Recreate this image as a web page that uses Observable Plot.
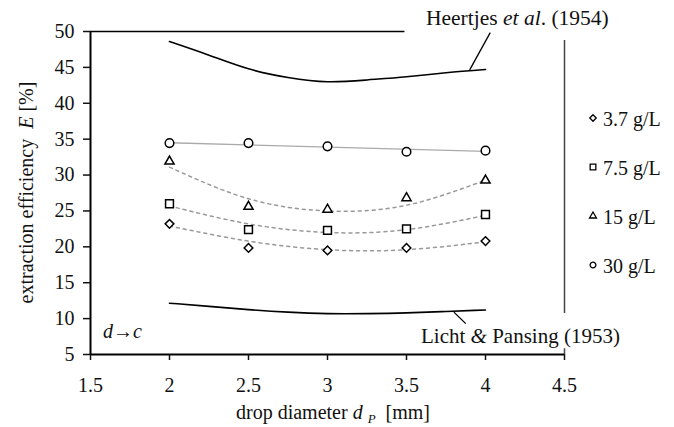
<!DOCTYPE html>
<html><head><meta charset="utf-8">
<script src="https://cdn.jsdelivr.net/npm/d3@7"></script>
<script src="https://cdn.jsdelivr.net/npm/@observablehq/plot@0.6"></script>
<style>
body{margin:0;background:#fff}
#chart{width:674px;height:427px}
svg text{white-space:pre}
</style>
</head><body><div id="chart"></div>
<script>
// ---- data ----
const diameters = [2, 2.5, 3, 3.5, 4];
const e37 = [23.2, 19.85, 19.5, 19.85, 20.8];
const e75 = [26.0, 22.4, 22.3, 22.5, 24.5];
const e15 = [31.9, 25.6, 25.2, 26.8, 29.25];
const e30 = [34.45, 34.45, 34.0, 33.25, 33.4];
const trend37 = [22.9, 20.8, 19.6, 19.6, 20.7];
const trend75 = [25.7, 23.2, 22.0, 22.4, 24.4];
const trend15 = [31.1, 26.7, 25.0, 25.8, 29.3];
const trend30X = [2, 4];
const trend30 = [34.5, 33.3];
const corrX = [2, 2.25, 2.5, 2.75, 3, 3.25, 3.5, 3.75, 4];
const heertjes = [48.6, 46.7, 44.8, 43.6, 43.0, 43.25, 43.7, 44.25, 44.7];
const licht = [12.15, 11.7, 11.25, 10.9, 10.7, 10.7, 10.8, 11.0, 11.2];
const xTicks = [1.5, 2, 2.5, 3, 3.5, 4, 4.5];
const yTicks = [5, 10, 15, 20, 25, 30, 35, 40, 45, 50];
const seriesLabels = ["3.7 g/L", "7.5 g/L", "15 g/L", "30 g/L"];
const seriesSymbols = ["diamond2", "square2", "triangle2", "circle"];
const seriesValues = [e37, e75, e15, e30];
const trendValues = [trend37, trend75, trend15];
// leader lines for the two correlation labels (data coords)
const leaders = [
  {x1: 4.03, y1: 49.85, x2: 3.90, y2: 44.65},
  {x1: 3.80, y1: 10.9, x2: 3.875, y2: 9.3}
];

const FONT = "'Liberation Serif', 'Times New Roman', serif";
const symR = {diamond2: 3.9, square2: 5.0, triangle2: 4.4, circle: 4.3};
const legR = {diamond2: 2.9, square2: 3.6, triangle2: 3.3, circle: 2.9};

const rows = (xs, ys) => xs.map((x, i) => ({x, y: ys[i]}));
const fmt = d => String(d);

const marks = [
  // frame pieces
  Plot.ruleX([1.5], {y1: 5, y2: 50, stroke: "black", strokeWidth: 2}),
  Plot.ruleY([5], {x1: 1.5, x2: 4.5, stroke: "black", strokeWidth: 2}),
  Plot.ruleY([50], {x1: 1.5, x2: 3.49, stroke: "black", strokeWidth: 1.5}),
  Plot.ruleX([4.5], {y1: 10.7, y2: 48.75, stroke: "#444", strokeWidth: 1.5}),
  Plot.ruleX([4.5], {y1: 5, y2: 5.8, stroke: "#444", strokeWidth: 1.5}),
  Plot.axisY({ticks: yTicks, tickFormat: fmt, tickSize: 7, tickPadding: 9, label: null, strokeWidth: 1.5, fontSize: 20}),
  Plot.axisX({ticks: xTicks, tickFormat: fmt, tickSize: 6, tickPadding: 17, label: null, strokeWidth: 1.5, fontSize: 20}),
  // literature correlations
  Plot.line(rows(corrX, heertjes), {x: "x", y: "y", curve: "natural", stroke: "black", strokeWidth: 1.6}),
  Plot.line(rows(corrX, licht), {x: "x", y: "y", curve: "natural", stroke: "black", strokeWidth: 1.6}),
  Plot.link(leaders, {x1: "x1", y1: "y1", x2: "x2", y2: "y2", stroke: "black", strokeWidth: 1.3}),
  // trend lines
  ...trendValues.map(t => Plot.line(rows(diameters, t), {x: "x", y: "y", curve: "natural", stroke: "#999", strokeWidth: 1.5, strokeDasharray: "3,4"})),
  Plot.line(rows(trend30X, trend30), {x: "x", y: "y", stroke: "#aaa", strokeWidth: 1.3}),
  // measured points
  ...seriesValues.map((v, i) => Plot.dot(rows(diameters, v), {x: "x", y: "y", symbol: seriesSymbols[i], r: symR[seriesSymbols[i]], stroke: "black", fill: "white", strokeWidth: 1.5}))
];

const plot = Plot.plot({
  width: 674, height: 427,
  marginLeft: 90, marginRight: 110, marginTop: 31, marginBottom: 73,
  x: {domain: [1.5, 4.5]},
  y: {domain: [5, 50]},
  style: {fontFamily: FONT, fontSize: "20px", color: "#111", background: "white", overflow: "visible"},
  marks
});
document.getElementById("chart").appendChild(plot);

const svg = d3.select(plot);
svg.attr("font-family", FONT).style("font-family", FONT);
svg.selectAll("text").attr("font-family", FONT);
const g = svg.append("g").attr("font-family", FONT).style("font-family", FONT)
  .attr("font-size", 20).attr("fill", "#111").attr("text-anchor", "start");

function rich(x, y, parts, opt = {}) {
  const t = g.append("text").attr("x", x).attr("y", y).attr("text-anchor", opt.anchor || "start");
  if (opt.size) t.attr("font-size", opt.size);
  if (opt.transform) t.attr("transform", opt.transform).attr("x", 0).attr("y", 0);
  for (const p of parts) {
    const s = t.append("tspan").text(p.t);
    if (p.i) s.attr("font-style", "italic");
    if (p.size) s.attr("font-size", p.size);
    if (p.dy) s.attr("dy", p.dy);
  }
  return t;
}

// axis titles
rich(0, 0, [{t: "extraction efficiency  "}, {t: "E", i: true}, {t: " [%]"}],
  {anchor: "middle", transform: "translate(33,192.5) rotate(-90)"});
rich(236, 419, [{t: "drop diameter "}, {t: "d", i: true}, {t: " "}, {t: "P", i: true, size: 13, dy: 4}, {t: "  [mm]", dy: -4}]);

// annotations
rich(426, 25, [{t: "Heertjes "}, {t: "et al", i: true}, {t: ". (1954)"}], {size: 21.5});
rich(421, 343, [{t: "Licht "}, {t: "&", i: true}, {t: " Pansing (1953)"}], {size: 21});
rich(103, 338, [{t: "d", i: true}, {t: "→"}, {t: "c", i: true}]);

// legend
const symMap = {diamond2: d3.symbolDiamond2, square2: d3.symbolSquare2, triangle2: d3.symbolTriangle2, circle: d3.symbolCircle};
seriesLabels.forEach((lab, i) => {
  const cy = 119 + i * 49;
  const s = seriesSymbols[i];
  g.append("path")
    .attr("d", d3.symbol(symMap[s], Math.PI * legR[s] * legR[s])())
    .attr("transform", `translate(593,${cy - 1})`)
    .attr("fill", "white").attr("stroke", "black").attr("stroke-width", 1.3);
  g.append("text").attr("x", 603).attr("y", cy + 6.5).attr("text-anchor", "start").text(lab);
});
</script>
</body></html>
